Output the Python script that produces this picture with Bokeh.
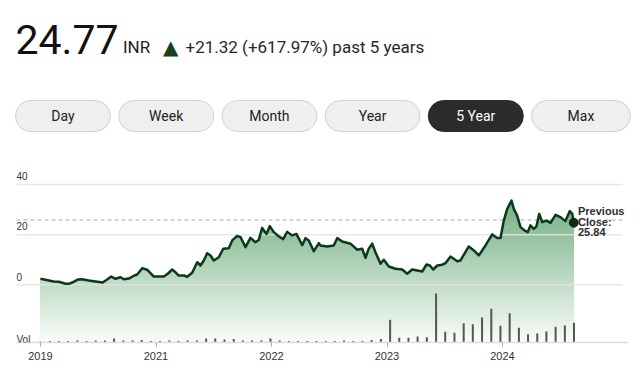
import numpy as np
from bokeh.plotting import figure
from bokeh.models import Range1d, Label, BoxAnnotation, FixedTicker
from bokeh.embed import file_html
from bokeh.resources import INLINE

# ---------------- data ----------------
dates = [
    2020.000, 2020.072, 2020.115, 2020.158, 2020.216, 2020.245, 2020.274, 2020.323, 2020.361, 2020.418,
    2020.491, 2020.539, 2020.577, 2020.612, 2020.649, 2020.693, 2020.721, 2020.765, 2020.808, 2020.837,
    2020.881, 2020.924, 2020.946, 2020.981, 2021.024, 2021.068, 2021.102, 2021.140, 2021.169, 2021.197,
    2021.241, 2021.270, 2021.313, 2021.357, 2021.385, 2021.414, 2021.443, 2021.472, 2021.500, 2021.544,
    2021.582, 2021.630, 2021.660, 2021.703, 2021.732, 2021.775, 2021.818, 2021.861, 2021.890, 2021.919,
    2021.957, 2021.985, 2022.020, 2022.063, 2022.101, 2022.136, 2022.179, 2022.216, 2022.266, 2022.294,
    2022.323, 2022.366, 2022.410, 2022.424, 2022.482, 2022.539, 2022.569, 2022.612, 2022.684, 2022.742,
    2022.785, 2022.814, 2022.842, 2022.872, 2022.900, 2022.944, 2022.972, 2023.016, 2023.074, 2023.132,
    2023.175, 2023.218, 2023.262, 2023.305, 2023.342, 2023.371, 2023.400, 2023.435, 2023.478, 2023.506,
    2023.550, 2023.578, 2023.608, 2023.636, 2023.708, 2023.752, 2023.795, 2023.853, 2023.911, 2023.954,
    2023.983, 2024.011, 2024.041, 2024.078, 2024.098, 2024.127, 2024.156, 2024.190, 2024.219, 2024.242,
    2024.271, 2024.294, 2024.318, 2024.344, 2024.381, 2024.416, 2024.459, 2024.502, 2024.545, 2024.583,
    2024.604, 2024.617,
]
close = [
    2.4, 1.7, 1.3, 1.2, 0.4, 0.4, 0.9, 2.1, 2.2, 1.7,
    1.2, 0.9, 2.1, 3.3, 2.4, 3.0, 2.2, 2.5, 3.6, 4.1,
    6.6, 6.0, 5.0, 3.3, 3.3, 3.3, 4.4, 6.1, 5.0, 3.7,
    3.7, 3.2, 4.8, 9.0, 7.7, 9.7, 12.6, 11.7, 9.7, 11.0,
    14.4, 14.6, 17.7, 19.5, 19.0, 15.0, 18.7, 17.0, 17.9, 22.7,
    20.3, 23.4, 21.0, 19.3, 18.2, 21.1, 19.7, 20.3, 15.8, 18.6,
    17.7, 13.4, 16.6, 15.7, 15.3, 15.7, 18.6, 17.3, 16.4, 14.0,
    14.4, 10.8, 14.4, 16.4, 13.0, 8.4, 10.0, 7.3, 6.4, 6.1,
    4.4, 6.1, 5.7, 5.3, 8.1, 7.7, 6.1, 7.7, 8.0, 8.6,
    11.3, 10.4, 9.4, 9.7, 15.3, 13.7, 11.7, 15.7, 20.1, 18.7,
    18.7, 25.6, 30.3, 33.6, 30.3, 27.6, 23.0, 21.7, 21.0, 23.7,
    22.3, 23.3, 28.3, 25.0, 25.6, 24.7, 27.9, 27.0, 25.4, 29.4,
    28.3, 24.77,
]
vol_dates = [
    2020.000, 2020.080, 2020.159, 2020.239, 2020.319, 2020.398, 2020.478, 2020.558, 2020.637, 2020.717,
    2020.797, 2020.876, 2020.956, 2021.035, 2021.115, 2021.195, 2021.274, 2021.354, 2021.434, 2021.513,
    2021.593, 2021.673, 2021.752, 2021.832, 2021.912, 2021.991, 2022.071, 2022.150, 2022.230, 2022.310,
    2022.389, 2022.469, 2022.549, 2022.628, 2022.708, 2022.788, 2022.867, 2022.947, 2023.027, 2023.106,
    2023.186, 2023.265, 2023.345, 2023.425, 2023.504, 2023.584, 2023.664, 2023.743, 2023.823, 2023.903,
    2023.982, 2024.062, 2024.142, 2024.221, 2024.301, 2024.380, 2024.460, 2024.540, 2024.619,
]
volume = [
    1.0, 1.5, 1.5, 1.5, 2.0, 1.5, 2.0, 2.0, 4.0, 2.0,
    2.0, 2.5, 1.5, 1.5, 2.0, 1.5, 2.0, 2.0, 4.0, 4.0,
    3.0, 3.5, 2.0, 2.0, 2.0, 4.0, 2.0, 1.5, 1.5, 1.5,
    1.5, 1.5, 1.5, 2.0, 1.5, 1.5, 2.5, 3.5, 22.7, 4.7,
    4.7, 6.0, 5.3, 49.0, 10.7, 9.7, 19.3, 18.3, 25.0, 33.7,
    16.7, 29.3, 14.7, 8.3, 9.0, 11.0, 15.7, 17.0, 19.7,
]
prev_close = 25.84
y_ticks = [0, 20, 40]
x_tick_pos = [2020, 2021, 2022, 2023, 2024]
x_tick_labels = ["2019", "2021", "2022", "2023", "2024"]
last_price = "24.77"
currency = "INR"
change_text = "+21.32 (+617.97%) past 5 years"
buttons = ["Day", "Week", "Month", "Year", "5 Year", "Max"]
selected = "5 Year"

# ---------------- layout / scales ----------------
W, H = 636, 372
FRAME_H = 342
PX_PER_YEAR = 115.5
x_start = 2020 - 40 / PX_PER_YEAR
x_end = x_start + W / PX_PER_YEAR
PX_PER_UNIT = 2.507
ZERO_Y = 284.3  # canvas y of price 0
y_top = ZERO_Y / PX_PER_UNIT
y_bot = -(FRAME_H - ZERO_Y) / PX_PER_UNIT


def xc(canvas_px):
    return x_start + canvas_px / PX_PER_YEAR


p = figure(width=W, height=H, output_backend="svg", toolbar_location=None,
           x_range=Range1d(x_start, x_end), y_range=Range1d(y_bot, y_top),
           min_border_left=0, min_border_right=0, min_border_top=0,
           min_border_bottom=H - FRAME_H,
           y_axis_location=None, outline_line_color=None,
           background_fill_color="white", border_fill_color="white")
p.grid.visible = False
p.extra_y_ranges = {"vol": Range1d(0, FRAME_H)}

# gradient fill under the price line (stacked bands)
xs_d = np.linspace(dates[0], dates[-1], 700)
ys_d = np.interp(xs_d, dates, close)
v_hi = max(close) + 1.0
top_col = np.array([114, 175, 130])
bot_col = np.array([251, 253, 251])
n = 48
for k in range(n):
    b = y_bot + (n - k) * (v_hi - y_bot) / n
    t = (b - y_bot) / (v_hi - y_bot)
    c = bot_col + (top_col - bot_col) * t
    col = "#%02x%02x%02x" % tuple(int(round(v)) for v in c)
    p.varea(x=xs_d, y1=y_bot, y2=np.minimum(ys_d, b), fill_color=col, fill_alpha=1.0)

# gridlines
g0, g1 = xc(16), xc(622)
p.segment(x0=[g0] * len(y_ticks), y0=y_ticks, x1=[g1] * len(y_ticks), y1=y_ticks,
          line_color="#e3e3e3", line_width=1.5, line_alpha=0.85)
# previous close dashed line
p.segment(x0=[g0], y0=[prev_close], x1=[g1], y1=[prev_close],
          line_color="#a8a8a8", line_width=1, line_dash="4 3")

# volume bars
p.segment(x0=vol_dates, y0=[0] * len(volume), x1=vol_dates, y1=volume,
          y_range_name="vol", line_color="#555555", line_width=2)

# price line + last point
p.line(dates, close, line_color="#0b3a1a", line_width=2.5, line_join="round")
p.scatter([dates[-1]], [close[-1]], size=9, fill_color="#0b2c15", line_color="#0b2c15")

# x axis
ax = p.xaxis[0]
ax.ticker = FixedTicker(ticks=x_tick_pos, minor_ticks=[])
ax.major_label_overrides = {pos: lab for pos, lab in zip(x_tick_pos, x_tick_labels)}
ax.bounds = (xc(16), xc(627))
ax.axis_line_color = "#dddddd"
ax.axis_line_width = 1.5
ax.major_tick_in = 0
ax.major_tick_out = 4
ax.major_tick_line_color = "#aaaaaa"
ax.minor_tick_line_color = None
ax.major_label_standoff = 5
ax.major_label_text_font = "Liberation Sans"
ax.major_label_text_font_size = "11px"
ax.major_label_text_color = "#333333"

# y labels above gridlines
for t in y_ticks:
    p.add_layout(Label(x=16, x_units="canvas", y=t, y_units="data", y_offset=8.3,
                       text=str(t), text_font="Liberation Sans", text_font_size="10px",
                       text_color="#333333", text_baseline="middle"))
p.add_layout(Label(x=16, x_units="canvas", y=0, y_units="data", y_range_name="vol",
                   y_offset=3.5,
                   text="Vol", text_font="Liberation Sans", text_font_size="10px",
                   text_color="#333333", text_baseline="middle"))

# previous close label
for i, s in enumerate(["Previous", "Close:", str(prev_close)]):
    p.add_layout(Label(x=577.5, y=210.4 + i * 10.65, x_units="canvas", y_units="canvas",
                       text=s, text_font="Liberation Sans", text_font_size="11px",
                       text_font_style="bold", text_color="#2e2e2e",
                       text_baseline="middle"))

# header
p.add_layout(Label(x=15, y=38.7, x_units="canvas", y_units="canvas", text=last_price,
                   text_font="Roboto", text_font_size="41px", text_color="#111111",
                   text_baseline="middle"))
p.add_layout(Label(x=122.5, y=46.7, x_units="canvas", y_units="canvas", text=currency,
                   text_font="Roboto", text_font_size="17px", text_color="#222222",
                   text_baseline="middle"))
p.add_layout(Label(x=162.5, y=46.0, x_units="canvas", y_units="canvas", text="\u25b2",
                   text_font="DejaVu Sans", text_font_size="20px", text_color="#1c3f1f",
                   text_baseline="middle"))
p.add_layout(Label(x=185, y=46.7, x_units="canvas", y_units="canvas", text=change_text,
                   text_font="Roboto", text_font_size="17px", text_color="#1f2b1f",
                   text_baseline="middle"))

# range buttons
for i, name in enumerate(buttons):
    left = 15 + i * 103.2
    right = left + 95 if i < len(buttons) - 1 else 630
    sel = name == selected
    p.add_layout(BoxAnnotation(left=left, right=right, top=100, bottom=131,
                               left_units="canvas", right_units="canvas",
                               top_units="canvas", bottom_units="canvas",
                               fill_color="#2b2b2b" if sel else "#efefef", fill_alpha=1,
                               line_color="#2b2b2b" if sel else "#d2d2d2", line_alpha=1,
                               line_width=1, border_radius=16))
    p.add_layout(Label(x=(left + right) / 2, y=115.5, x_units="canvas", y_units="canvas",
                       text=name, text_font="Roboto", text_font_size="14px",
                       text_color="#ffffff" if sel else "#222222",
                       text_align="center", text_baseline="middle"))

open("out.html", "w").write(file_html(p, INLINE))
